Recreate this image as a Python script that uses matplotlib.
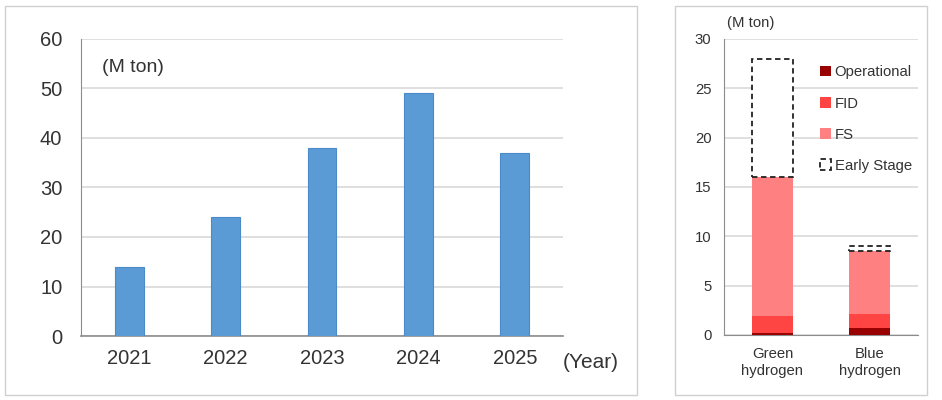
import matplotlib
matplotlib.use('Agg')
import matplotlib.pyplot as plt
from matplotlib.patches import Rectangle

plt.rcParams['font.family'] = ['Liberation Sans', 'DejaVu Sans']

# 左图：年度数据
years = ['2021', '2022', '2023', '2024', '2025']
volumes = [14, 24, 38, 49, 37]

# 右图：按阶段堆叠
kinds = ['Green\nhydrogen', 'Blue\nhydrogen']
operational = [0.2, 0.7]
fid = [1.7, 1.4]
fs = [14.1, 6.4]
early = [12.0, 0.5]

txt = '#333333'
grid_c = '#d9d9d9'
spine_c = '#8c8c8c'

fig = plt.figure(figsize=(9.42, 4.0), dpi=100)

# 外框
for x0, x1 in [(5, 637), (675, 927)]:
    fig.patches.append(Rectangle((x0 / 942, 5 / 400), (x1 - x0) / 942, 389 / 400,
                                 transform=fig.transFigure, fill=False,
                                 edgecolor='#d0d0d0', linewidth=1.0))

# 左图
ax1 = fig.add_axes([81 / 942, 1 - 336 / 400, 482 / 942, 297 / 400])
ax1.bar(years, volumes, width=0.30, color='#5b9bd5', edgecolor='#4a8ac8',
        linewidth=0.8, zorder=3)
ax1.set_ylim(0, 60)
ax1.set_xlim(-0.5, 4.5)
ax1.set_yticks(range(0, 61, 10))
ax1.yaxis.grid(True, color=grid_c, linewidth=1.2, zorder=0)
for s in ['top', 'right']:
    ax1.spines[s].set_visible(False)
ax1.spines['left'].set_color(spine_c)
ax1.spines['bottom'].set_color(spine_c)
ax1.spines['bottom'].set_linewidth(1.2)
ax1.tick_params(axis='y', length=0, pad=13.5, labelsize=14.5, labelcolor=txt)
ax1.tick_params(axis='x', length=0, pad=9, labelsize=14.5, labelcolor=txt)
ax1.text(102 / 942, 1 - 67 / 400, '(M ton)', transform=fig.transFigure,
         fontsize=14, color=txt, va='center', ha='left')
ax1.text(563 / 942, 1 - 363 / 400, '(Year)', transform=fig.transFigure,
         fontsize=15, color=txt, va='center', ha='left')

# 右图
ax2 = fig.add_axes([724 / 942, 1 - 335 / 400, 194 / 942, 296 / 400])
w = 0.42
b1 = ax2.bar(kinds, operational, width=w, color='#990000', zorder=3,
             label='Operational')
bot = list(operational)
b2 = ax2.bar(kinds, fid, width=w, bottom=bot, color='#ff4444', zorder=3,
             label='FID')
bot = [a + b for a, b in zip(bot, fid)]
b3 = ax2.bar(kinds, fs, width=w, bottom=bot, color='#ff8080', zorder=3,
             label='FS')
bot = [a + b for a, b in zip(bot, fs)]
b4 = ax2.bar(kinds, early, width=w, bottom=bot, facecolor='white',
             edgecolor='#222222', linestyle=(0, (3, 2)), linewidth=1.3,
             zorder=3, label='Early Stage')
ax2.set_ylim(0, 30)
ax2.set_xlim(-0.5, 1.5)
ax2.set_yticks(range(0, 31, 5))
ax2.yaxis.grid(True, color=grid_c, linewidth=1.2, zorder=0)
for s in ['top', 'right']:
    ax2.spines[s].set_visible(False)
ax2.spines['left'].set_color(spine_c)
ax2.spines['bottom'].set_color(spine_c)
ax2.tick_params(axis='y', length=0, pad=9, labelsize=10.7, labelcolor=txt)
ax2.tick_params(axis='x', length=0, pad=9, labelsize=10.7, labelcolor=txt)
ax2.text(727 / 942, 1 - 23 / 400, '(M ton)', transform=fig.transFigure,
         fontsize=10.7, color=txt, va='center', ha='left')
ax2.legend(handles=[b1, b2, b3, b4], loc='upper left',
           bbox_to_anchor=(813 / 942, 1 - 58 / 400),
           bbox_transform=fig.transFigure, frameon=False, fontsize=10.7,
           handlelength=0.7, handleheight=0.7, handletextpad=0.25,
           labelspacing=1.15, borderpad=0, labelcolor=txt)

fig.savefig('out.png', dpi=100)
